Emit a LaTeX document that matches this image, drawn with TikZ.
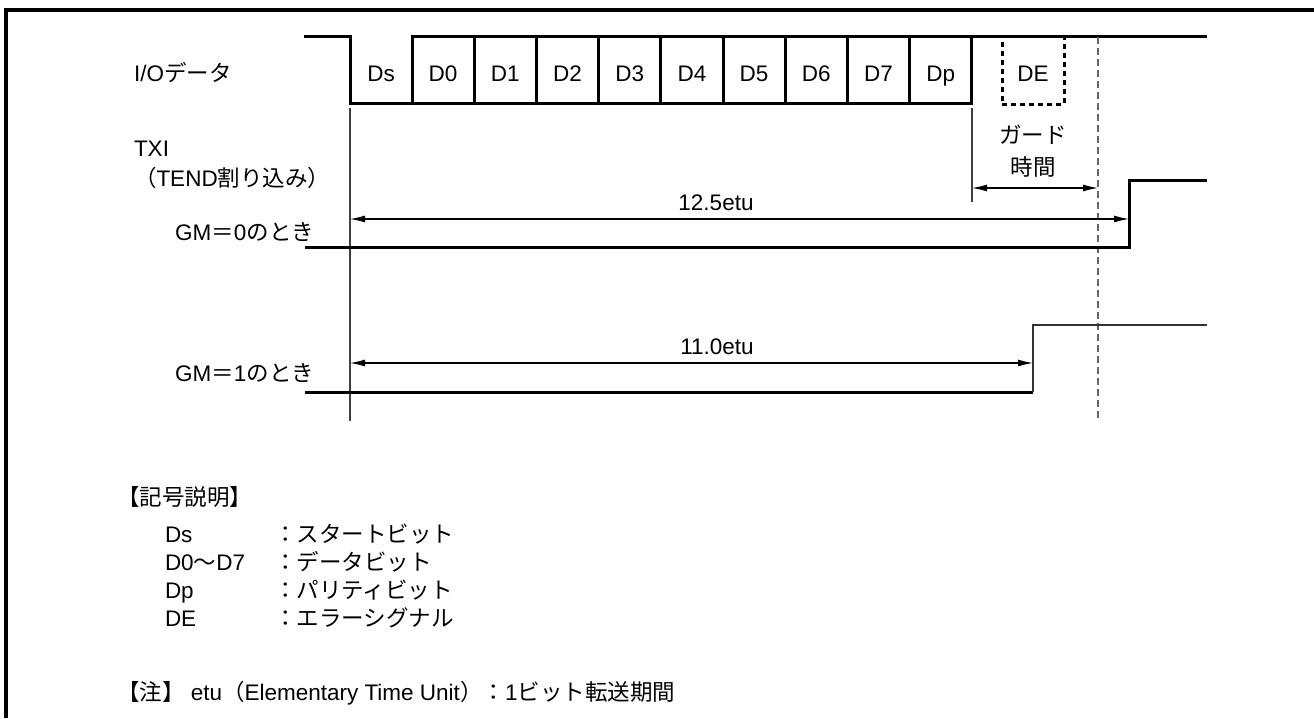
\documentclass[tikz,border=0pt]{standalone}
\usepackage{fontspec}
\setmainfont{Liberation Sans}
\newfontfamily\jp{Noto Sans CJK JP}
\usetikzlibrary{arrows.meta}
\begin{document}
\begin{tikzpicture}[x=1pt,y=-1pt,
  every node/.style={inner sep=0pt, outer sep=0pt, font=\fontsize{22.5}{26}\selectfont},
  sig/.style={line width=3pt, line join=miter, line cap=butt},
  sighi/.style={line width=1.8pt, draw=black!80},
  refline/.style={line width=1.3pt, draw=black!75},
  guide/.style={line width=1.8pt, draw=black!60, dash pattern=on 7pt off 4pt},
  dim/.style={line width=1.2pt, {Latex[length=15pt,width=7pt]}-{Latex[length=15pt,width=7pt]}},
  cell/.style={draw, line width=3pt, minimum width=62.2pt, minimum height=67pt},
  debox/.style={draw, line width=3pt, dash pattern=on 5pt off 4pt, minimum width=62pt, minimum height=68pt},
  lbl/.style={anchor=base},
  lblw/.style={anchor=base west},
  lble/.style={anchor=base east}
]
\useasboundingbox (0,0) rectangle (1314,718);
% frame
\coordinate (fbl) at (6,718);
\coordinate (ftl) at (6,10);
\coordinate (ftr) at (1314,10);
\draw[line width=3.5pt] (fbl) -- (ftl) -- (ftr);

% I/O data cells
\foreach \k/\t in {0/D0,1/D1,2/D2,3/D3,4/D4,5/D5,6/D6,7/D7,8/Dp}{
  \node[cell] (c\k) at ({412+62.2*(\k+0.5)},69.5) {};
  \node[lbl] (t\k) at ({412+62.2*(\k+0.5)},81) {\t};
}
\node[lbl] (tds) at (381,81) {Ds};
\coordinate (ioa) at (304,36);
\coordinate (iob) at (350,36);
\coordinate (ioc) at (350,103);
\coordinate (iod) at (1207,36);
% DE dashed box
\node[debox] (de) at (1033,70) {};
\node[lbl] (tde) at (1033,81) {DE};
\draw[sig] (ioa) -- (iob) -- (ioc) -- (c0.south west);
\draw[sig] (c8.north east) -- (iod);

% guide lines
\coordinate (g1) at (1098,37);
\coordinate (g2) at (1098,421);
\draw[guide] (g1) -- (g2);
\coordinate (v1) at (350,108);
\coordinate (v2) at (350,421);
\draw[refline] (v1) -- (v2);
\coordinate (p1) at (972,108);
\coordinate (p2) at (972,202);
\draw[refline] (p1) -- (p2);

% guard time
\coordinate (ga) at (972,188);
\coordinate (gb) at (1098,188);
\draw[dim] (ga) -- (gb);
\node[lbl] (gt1) at (1033,143) {\jp ガード};
\node[lbl] (gt2) at (1033,175) {\jp 時間};

% left labels
\node[lblw] (lio) at (134,81) {I/O{\jp データ}};
\node[lblw] (ltxi) at (134,156) {TXI};
\node[lblw] (ltend) at (134,186) {{\jp （}TEND{\jp 割り込み）}};
\node[lble] (lgm0) at (314,240) {GM{\jp ＝}0{\jp のとき}};
\node[lble] (lgm1) at (314,381) {GM{\jp ＝}1{\jp のとき}};

% GM=0
\coordinate (a0) at (305,247);
\coordinate (b0) at (1129,247);
\coordinate (c0u) at (1129,180);
\coordinate (d0) at (1207,180);
\draw[sig] (a0) -- (b0) -- (c0u) -- (d0);
\coordinate (e0) at (350,219);
\coordinate (f0) at (1129,219);
\draw[dim] (e0) -- (f0);
\node[lbl] (t125) at (716,210) {12.5etu};

% GM=1
\coordinate (a1) at (305,392);
\coordinate (b1) at (1033,392);
\coordinate (c1u) at (1033,325);
\coordinate (d1) at (1207,325);
\draw[sig] (a1) -- (b1);
\draw[sighi] (b1) -- (c1u) -- (d1);
\coordinate (e1) at (350,363);
\coordinate (f1) at (1033,363);
\draw[dim] (e1) -- (f1);
\node[lbl] (t110) at (717,354) {11.0etu};

% legend
\node[lblw] (kg) at (117,505) {\jp 【記号説明】};
\node[lblw] (k1a) at (165,542) {Ds};
\node[lblw] (k1b) at (274,542) {\jp ：スタートビット};
\node[lblw] (k2a) at (165,570) {D0{\jp ～}D7};
\node[lblw] (k2b) at (274,570) {\jp ：データビット};
\node[lblw] (k3a) at (165,598) {Dp};
\node[lblw] (k3b) at (274,598) {\jp ：パリティビット};
\node[lblw] (k4a) at (165,626) {DE};
\node[lblw] (k4b) at (274,626) {\jp ：エラーシグナル};
\node[lblw] (note) at (117,700) {{\jp 【注】} etu{\jp （}Elementary Time Unit{\jp ）：}1{\jp ビット転送期間}};
\end{tikzpicture}
\end{document}
